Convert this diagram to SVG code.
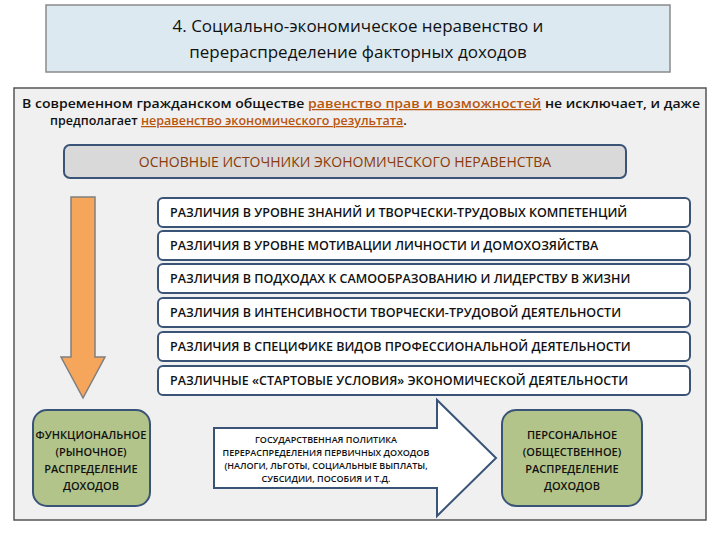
<svg xmlns="http://www.w3.org/2000/svg" width="720" height="540" viewBox="0 0 720 540">
<style>
text{font-family:"Open Sans","Liberation Sans",sans-serif;}
.r{fill:#fff;stroke:#3a5478;stroke-width:2}
.rt{font-size:12.5px;fill:#111;font-weight:600}
.g{fill:#b2c48a;stroke:#3a5478;stroke-width:2}
.gt{font-size:11px;fill:#111;text-anchor:middle;font-weight:600}
.u{fill:#b8560f;text-decoration:underline}
</style>
<rect width="720" height="540" fill="#fff"/>
<g id="title">
<rect x="46" y="5" width="624" height="67" fill="#dce9f0" stroke="#8a8a8a" stroke-width="1.5"/>
<text x="358" y="32" font-size="17" text-anchor="middle" fill="#111">4. Социально-экономическое неравенство и</text>
<text x="358" y="58" font-size="17" text-anchor="middle" fill="#111">перераспределение факторных доходов</text>
</g>
<g id="panel">
<rect x="14" y="88" width="692" height="432" fill="#f0f0f0" stroke="#555" stroke-width="1.5"/>
<text x="22" y="108" font-size="12.5" font-weight="600" fill="#111" textLength="678" lengthAdjust="spacingAndGlyphs">В современном гражданском обществе <tspan class="u">равенство прав и возможностей</tspan> не исключает, и даже</text>
<text x="50" y="125" font-size="12.5" font-weight="600" fill="#111">предполагает <tspan class="u">неравенство экономического результата</tspan>.</text>
</g>
<g id="sources">
<rect x="64" y="145" width="562" height="33" rx="6" fill="#d9d9d9" stroke="#3a5478" stroke-width="2"/>
<text x="345" y="167" font-size="14" text-anchor="middle" fill="#8a3a08">ОСНОВНЫЕ ИСТОЧНИКИ ЭКОНОМИЧЕСКОГО НЕРАВЕНСТВА</text>
</g>
<g id="connectors">
<path d="M71 197 H95 V357 H105 L83 398 L61 357 H71 Z" fill="#f5a65b" stroke="#7f7f7f" stroke-width="1.5"/>
<path d="M214 428 H437 V400 L496 458 L437 516 V488 H214 Z" fill="#fff" stroke="#3a5478" stroke-width="2"/>
</g>
<g id="d1"><rect class="r" x="158" y="198" width="532" height="29" rx="5"/><text class="rt" x="170" y="217">РАЗЛИЧИЯ В УРОВНЕ ЗНАНИЙ И ТВОРЧЕСКИ-ТРУДОВЫХ КОМПЕТЕНЦИЙ</text></g>
<g id="d2"><rect class="r" x="158" y="231" width="532" height="29" rx="5"/><text class="rt" x="170" y="250">РАЗЛИЧИЯ В УРОВНЕ МОТИВАЦИИ ЛИЧНОСТИ И ДОМОХОЗЯЙСТВА</text></g>
<g id="d3"><rect class="r" x="158" y="264" width="532" height="29" rx="5"/><text class="rt" x="170" y="283">РАЗЛИЧИЯ В ПОДХОДАХ К САМООБРАЗОВАНИЮ И ЛИДЕРСТВУ В ЖИЗНИ</text></g>
<g id="d4"><rect class="r" x="158" y="298" width="532" height="29" rx="5"/><text class="rt" x="170" y="317">РАЗЛИЧИЯ В ИНТЕНСИВНОСТИ ТВОРЧЕСКИ-ТРУДОВОЙ ДЕЯТЕЛЬНОСТИ</text></g>
<g id="d5"><rect class="r" x="158" y="332" width="532" height="29" rx="5"/><text class="rt" x="170" y="351">РАЗЛИЧИЯ В СПЕЦИФИКЕ ВИДОВ ПРОФЕССИОНАЛЬНОЙ ДЕЯТЕЛЬНОСТИ</text></g>
<g id="d6"><rect class="r" x="158" y="366" width="532" height="29" rx="5"/><text class="rt" x="170" y="385">РАЗЛИЧНЫЕ «СТАРТОВЫЕ УСЛОВИЯ» ЭКОНОМИЧЕСКОЙ ДЕЯТЕЛЬНОСТИ</text></g>
<g id="functional"><rect class="g" x="33" y="410" width="117" height="96" rx="14"/>
<text class="gt" x="91" y="439">ФУНКЦИОНАЛЬНОЕ</text><text class="gt" x="91" y="456">(РЫНОЧНОЕ)</text><text class="gt" x="91" y="473">РАСПРЕДЕЛЕНИЕ</text><text class="gt" x="91" y="490">ДОХОДОВ</text></g>
<g id="policy">
<text class="gt" x="326" y="443" style="font-size:9px">ГОСУДАРСТВЕННАЯ ПОЛИТИКА</text>
<text class="gt" x="326" y="456" style="font-size:9px">ПЕРЕРАСПРЕДЕЛЕНИЯ ПЕРВИЧНЫХ ДОХОДОВ</text>
<text class="gt" x="326" y="469" style="font-size:9px">(НАЛОГИ, ЛЬГОТЫ, СОЦИАЛЬНЫЕ ВЫПЛАТЫ,</text>
<text class="gt" x="326" y="482" style="font-size:9px">СУБСИДИИ, ПОСОБИЯ И Т.Д.</text></g>
<g id="personal"><rect class="g" x="502" y="410" width="140" height="96" rx="14"/>
<text class="gt" x="572" y="439">ПЕРСОНАЛЬНОЕ</text><text class="gt" x="572" y="456">(ОБЩЕСТВЕННОЕ)</text><text class="gt" x="572" y="473">РАСПРЕДЕЛЕНИЕ</text><text class="gt" x="572" y="490">ДОХОДОВ</text></g>
</svg>
